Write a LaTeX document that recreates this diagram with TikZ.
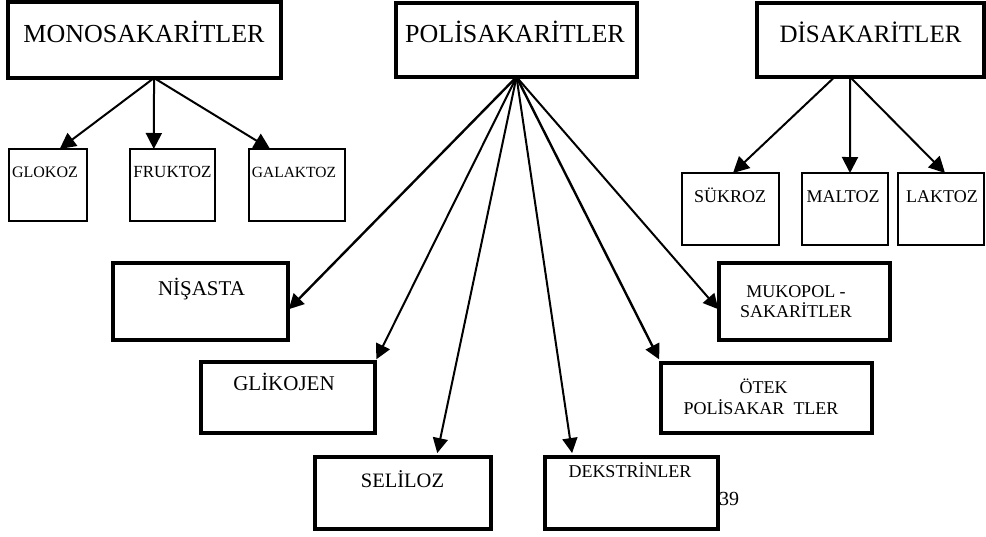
\documentclass[tikz,border=0pt]{standalone}
\usepackage{fontspec}
\setmainfont{Liberation Serif}
\usetikzlibrary{arrows.meta,calc}
\begin{document}
\begin{tikzpicture}[x=1pt,y=-1pt,
  thickbox/.style={draw,line width=3.5pt,inner sep=0pt,outer sep=0pt,anchor=north west},
  thinbox/.style={draw,line width=1.6pt,inner sep=0pt,outer sep=0pt,anchor=north west,line cap=square},
  lbl/.style={inner sep=0pt,anchor=base},
  arr/.style={line width=2pt,-{Triangle[length=16pt,width=16pt]}},
  parr/.style={line width=2pt,-{Triangle[length=15pt,width=15pt]}}
]
\useasboundingbox (0,0) rectangle (986,536);
% page number
\node[lbl,font=\fontsize{20}{24}\selectfont] (pg) at (729,505) {39};
% header boxes
\node[thickbox,minimum width=273pt,minimum height=76pt] (mono) at (8,2) {};
\node[thickbox,minimum width=241pt,minimum height=74pt] (poli) at (396,3) {};
\node[thickbox,minimum width=227pt,minimum height=74pt] (disak) at (757,3) {};
% thin boxes
\node[thinbox,minimum width=78pt,minimum height=72pt] (glokoz) at (9,149) {};
\node[thinbox,minimum width=85pt,minimum height=72pt] (fruktoz) at (130,149) {};
\node[thinbox,minimum width=96pt,minimum height=72pt] (galaktoz) at (249,149) {};
\node[thinbox,minimum width=97pt,minimum height=72pt] (sukroz) at (682,173) {};
\node[thinbox,minimum width=86pt,minimum height=72pt] (maltoz) at (802,173) {};
\node[thinbox,minimum width=86pt,minimum height=72pt] (laktoz) at (898,173) {};
% thick lower boxes
\node[thickbox,minimum width=175pt,minimum height=77pt] (nisasta) at (113,263) {};
\node[thickbox,minimum width=174pt,minimum height=71pt] (glikojen) at (201,362) {};
\node[thickbox,minimum width=176pt,minimum height=72pt] (seliloz) at (315,457) {};
\node[thickbox,minimum width=173pt,minimum height=72pt] (dekstrin) at (545,457) {};
\node[thickbox,minimum width=171pt,minimum height=77pt] (mukopol) at (719,263) {};
\node[thickbox,minimum width=211pt,minimum height=70pt] (otek) at (661,363) {};
% texts
\node[lbl,font=\fontsize{26}{30}\selectfont] (tmono) at (144,42) {MONOSAKARİTLER};
\node[lbl,font=\fontsize{26}{30}\selectfont] (tpoli) at (515,42) {POLİSAKARİTLER};
\node[lbl,font=\fontsize{25}{30}\selectfont] (tdisak) at (870.5,42) {DİSAKARİTLER};
\node[lbl,font=\fontsize{16}{19}\selectfont] (tglokoz) at (45,177) {GLOKOZ};
\node[lbl,font=\fontsize{17}{20}\selectfont] (tfruktoz) at (172.5,177) {FRUKTOZ};
\node[lbl,font=\fontsize{15.5}{19}\selectfont] (tgalaktoz) at (294,177) {GALAKTOZ};
\node[lbl,font=\fontsize{18}{21}\selectfont] (tsukroz) at (730,202) {SÜKROZ};
\node[lbl,font=\fontsize{18}{21}\selectfont] (tmaltoz) at (843,202) {MALTOZ};
\node[lbl,font=\fontsize{18}{21}\selectfont] (tlaktoz) at (942,202) {LAKTOZ};
\node[lbl,font=\fontsize{21}{25}\selectfont] (tnisasta) at (201.5,295) {NİŞASTA};
\node[lbl,font=\fontsize{21}{25}\selectfont] (tglikojen) at (284,390) {GLİKOJEN};
\node[lbl,font=\fontsize{20.5}{25}\selectfont] (tseliloz) at (402.5,487) {SELİLOZ};
\node[lbl,font=\fontsize{18}{21}\selectfont] (tdekstrin) at (630,477) {DEKSTRİNLER};
\node[lbl,font=\fontsize{18}{21}\selectfont] (tmuk1) at (796,297) {MUKOPOL -};
\node[lbl,font=\fontsize{18}{21}\selectfont] (tmuk2) at (796,317) {SAKARİTLER};
\node[lbl,font=\fontsize{18}{21}\selectfont] (totek1) at (763.5,393) {ÖTEK};
\node[lbl,font=\fontsize{18}{21}\selectfont] (totek2) at (761,414) {POLİSAKAR\hspace{0.5em}TLER};
% arrows from MONOSAKARITLER
\coordinate (mo) at ($(mono.south west)!0.535!(mono.south east)$);
\draw[arr] (mo) -- ($(glokoz.north west)!0.65!(glokoz.north east)$);
\draw[arr] (mo) -- ($(fruktoz.north west)!0.28!(fruktoz.north east)$);
\draw[arr] (mo) -- ($(galaktoz.north west)!0.22!(galaktoz.north east)$);
% arrows from DISAKARITLER
\coordinate (do1) at ($(disak.south west)!0.342!(disak.south east)$);
\coordinate (do2) at ($(disak.south west)!0.41!(disak.south east)$);
\draw[arr] (do1) -- ($(sukroz.north west)!0.526!(sukroz.north east)$);
\draw[arr] (do2) -- ($(maltoz.north west)!0.558!(maltoz.north east)$);
\draw[arr] (do2) -- ($(laktoz.north west)!0.547!(laktoz.north east)$);
% arrows from POLISAKARITLER
\draw[parr,line width=2.4pt,shorten >=1pt] (poli.south) -- ($(nisasta.north east)!0.61!(nisasta.south east)$);
\draw[parr,shorten >=3pt] (poli.south) -- (glikojen.north east);
\draw[parr,shorten >=4pt] (poli.south) -- ($(seliloz.north west)!0.69!(seliloz.north east)$);
\draw[parr,shorten >=4pt] (poli.south) -- ($(dekstrin.north west)!0.16!(dekstrin.north east)$);
\draw[parr,line width=2.4pt,shorten >=4pt] (poli.south) -- (otek.north west);
\draw[parr,shorten >=1pt] (poli.south) -- ($(mukopol.north west)!0.61!(mukopol.south west)$);
\end{tikzpicture}
\end{document}
